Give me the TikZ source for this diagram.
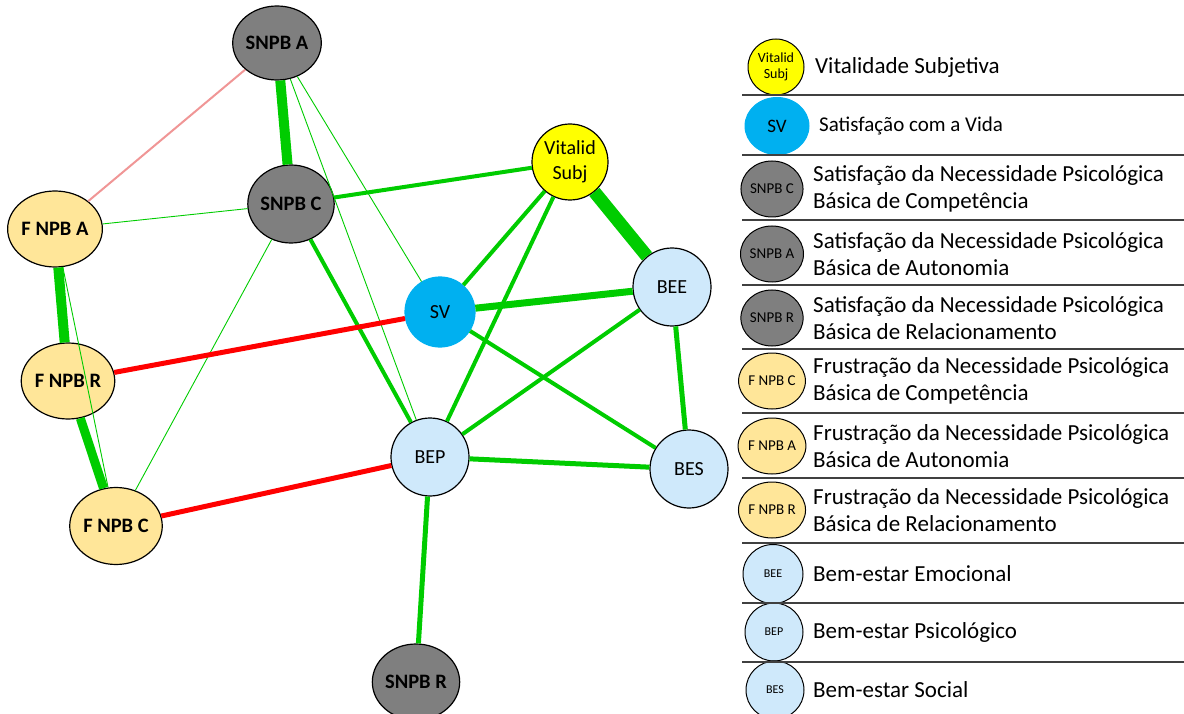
\documentclass[tikz,border=0pt]{standalone}
\usepackage{fontspec}
\setmainfont{Carlito}
\usepackage{xcolor}
\usetikzlibrary{shapes.geometric}

\definecolor{netgreen}{RGB}{0,204,0}
\definecolor{netred}{RGB}{255,0,0}
\definecolor{netpink}{RGB}{240,150,150}
\definecolor{snpbgray}{RGB}{127,127,127}
\definecolor{fnpbtan}{RGB}{255,230,153}
\definecolor{vitalyellow}{RGB}{255,255,0}
\definecolor{svblue}{RGB}{0,176,240}
\definecolor{bemblue}{RGB}{207,233,251}

\tikzstyle{netnode} = [ellipse, inner sep=0pt, minimum width=78pt, minimum height=78pt, text centered, draw=black, line width=1.2pt, font=\fontsize{20}{25}\selectfont]
\tikzstyle{snpb} = [netnode, fill=snpbgray, font=\bfseries\fontsize{20.5}{25}\selectfont]
\tikzstyle{fnpb} = [netnode, fill=fnpbtan, font=\bfseries\fontsize{20.5}{25}\selectfont]
\tikzstyle{vital} = [netnode, fill=vitalyellow, align=center]
\tikzstyle{sv} = [netnode, fill=svblue, draw=svblue]
\tikzstyle{bem} = [netnode, fill=bemblue]
\tikzstyle{keynode} = [ellipse, inner sep=0pt, minimum width=56pt, minimum height=56pt, text centered, draw=black, line width=1pt, font=\fontsize{15}{16}\selectfont]
\tikzstyle{keytext} = [inner sep=0pt, anchor=west, align=left, font=\fontsize{23}{27}\selectfont]
\tikzstyle{keyrule} = [draw=black!75, line width=1.5pt]
\tikzstyle{thinpos} = [draw=netgreen, line width=0.9pt]
\tikzstyle{midpos} = [draw=netgreen, line width=4pt]
\tikzstyle{thickpos} = [draw=netgreen, line width=10pt]
\tikzstyle{widepos} = [draw=netgreen, line width=13pt]
\tikzstyle{negthin} = [draw=netpink, line width=2pt]
\tikzstyle{negmid} = [draw=netred, line width=5pt]

\begin{document}
\begin{tikzpicture}[x=1pt, y=-1pt]
    \useasboundingbox (0,0) rectangle (1184,714);
    % network
    \node (snpba) [snpb, minimum width=74pt, minimum height=74pt] at (277,43) {SNPB A};
    \node (snpbc) [snpb] at (291,204) {SNPB C};
    \node (snpbr) [snpb, minimum width=76pt, minimum height=76pt] at (416,682) {SNPB R};
    \node (fnpba) [fnpb, minimum width=84pt, minimum height=76pt] at (55,229) {F NPB A};
    \node (fnpbr) [fnpb, minimum width=80pt, minimum height=76pt] at (68,381) {F NPB R};
    \node (fnpbc) [fnpb, minimum width=84pt, minimum height=77pt] at (116,526) {F NPB C};
    \node (vital) [vital, minimum width=76pt, minimum height=76pt] at (570,162) {Vitalid\\Subj};
    \node (sv) [sv, minimum width=70pt, minimum height=70pt] at (440,312) {SV};
    \node (bee) [bem] at (672,287) {BEE};
    \node (bep) [bem] at (430,457) {BEP};
    \node (bes) [bem] at (689,469) {BES};

    \draw [thickpos] (snpba) -- (snpbc);
    \draw [negthin] (snpba) -- (fnpba);
    \draw [thinpos] (snpba) -- (sv);
    \draw [thinpos] (snpba) -- (bep);
    \draw [midpos] (snpbc) -- (vital);
    \draw [thinpos] (snpbc) -- (fnpba);
    \draw [midpos] (snpbc) -- (bep);
    \draw [thinpos] (snpbc) -- (fnpbc);
    \draw [thickpos] (fnpba) -- (fnpbr);
    \draw [thinpos] (fnpba) -- (fnpbc);
    \draw [thickpos, line width=9pt] (fnpbr) -- (fnpbc);
    \draw [negmid] (fnpbr) -- (sv);
    \draw [negmid] (fnpbc) -- (bep);
    \draw [midpos] (vital) -- (sv);
    \draw [midpos] (vital) -- (bep);
    \draw [widepos] (vital) -- (bee);
    \draw [midpos, line width=7pt] (sv) -- (bee);
    \draw [midpos] (sv) -- (bes);
    \draw [midpos] (bee) -- (bep);
    \draw [midpos, line width=5pt] (bee) -- (bes);
    \draw [midpos, line width=5pt] (bep) -- (bes);
    \draw [midpos, line width=5pt] (bep) -- (snpbr);

    % legend
    \node (keyvital) [keynode, fill=vitalyellow, align=center, font=\fontsize{14}{16}\selectfont] at (776,67) {Vitalid\\Subj};
    \node (txtvital) [keytext] at (815,67) {Vitalidade Subjetiva};
    \node (keysv) [keynode, fill=svblue, draw=svblue, minimum width=64pt, minimum height=57pt, font=\fontsize{19}{20}\selectfont] at (777,126) {SV};
    \node (txtsv) [keytext, font=\fontsize{21}{27}\selectfont] at (819,126) {Satisfação com a Vida};
    \node (keysnpbc) [keynode, fill=snpbgray] at (772,189) {SNPB C};
    \node (txtsnpbc) [keytext] at (813,189) {Satisfação da Necessidade Psicológica\\Básica de Competência};
    \node (keysnpba) [keynode, fill=snpbgray] at (772,254) {SNPB A};
    \node (txtsnpba) [keytext] at (813,254) {Satisfação da Necessidade Psicológica\\Básica de Autonomia};
    \node (keysnpbr) [keynode, fill=snpbgray] at (772,318) {SNPB R};
    \node (txtsnpbr) [keytext] at (813,318) {Satisfação da Necessidade Psicológica\\Básica de Relacionamento};
    \node (keyfnpbc) [keynode, fill=fnpbtan] at (772,381) {F NPB C};
    \node (txtfnpbc) [keytext] at (813,381) {Frustração da Necessidade Psicológica\\Básica de Competência};
    \node (keyfnpba) [keynode, fill=fnpbtan] at (772,446) {F NPB A};
    \node (txtfnpba) [keytext] at (813,446) {Frustração da Necessidade Psicológica\\Básica de Autonomia};
    \node (keyfnpbr) [keynode, fill=fnpbtan] at (772,510) {F NPB R};
    \node (txtfnpbr) [keytext] at (813,510) {Frustração da Necessidade Psicológica\\Básica de Relacionamento};
    \node (keybee) [keynode, fill=bemblue, minimum width=60pt, minimum height=59pt, font=\fontsize{12}{14}\selectfont] at (773,574) {BEE};
    \node (txtbee) [keytext] at (813,574) {Bem-estar Emocional};
    \node (keybep) [keynode, fill=bemblue, minimum width=58pt, minimum height=58pt, font=\fontsize{12}{14}\selectfont] at (774,632) {BEP};
    \node (txtbep) [keytext] at (813,632) {Bem-estar Psicológico};
    \node (keybes) [keynode, fill=bemblue, minimum width=58pt, minimum height=58pt, font=\fontsize{12}{14}\selectfont] at (775,690) {BES};
    \node (txtbes) [keytext] at (813,690) {Bem-estar Social};

    \draw [keyrule] (742,95) -- (1184,95);
    \draw [keyrule] (742,155) -- (1184,155);
    \draw [keyrule] (742,220) -- (1184,220);
    \draw [keyrule] (742,285) -- (1184,285);
    \draw [keyrule] (742,349) -- (1184,349);
    \draw [keyrule] (742,413) -- (1184,413);
    \draw [keyrule] (742,478) -- (1184,478);
    \draw [keyrule] (742,543) -- (1184,543);
    \draw [keyrule] (742,603) -- (1184,603);
    \draw [keyrule] (742,662) -- (1184,662);
\end{tikzpicture}
\end{document}
